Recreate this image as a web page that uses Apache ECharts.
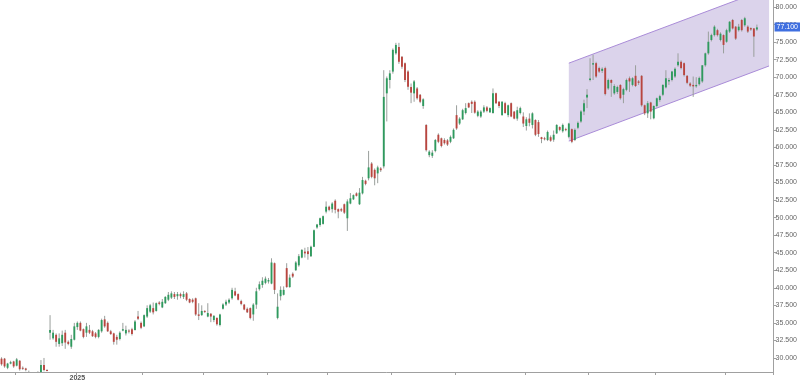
<!DOCTYPE html>
<html><head><meta charset="utf-8">
<script src="https://cdn.jsdelivr.net/npm/echarts@6/dist/echarts.min.js"></script>
<style>html,body{margin:0;padding:0;background:#fff}#c{width:800px;height:384px}</style>
</head><body><div id="c"></div>
<script>
// ---- data ----
const startDate = '2024-11-25';
const holidays = ['2024-12-25','2024-12-26','2025-01-01','2025-04-18','2025-04-21','2025-05-01'];
const totalSlots = 255; // trading days incl. empty space to the right

const opens = [
29.9,29.9,28.6,29.2,29.5,28.9,29.6,28.6,28.5,28.0,
27.8,27.5,27.7,28.0,29.0,28.3,33.6,32.8,33.3,32.0,
32.1,33.6,32.3,31.6,32.6,34.4,35.0,34.1,33.6,34.0,
33.8,33.5,33.0,33.8,35.5,35.0,33.8,33.5,33.0,32.7,
33.9,33.5,33.9,34.1,34.0,35.9,35.0,34.5,35.9,36.6,
37.1,36.7,37.9,37.2,37.8,38.3,38.6,39.1,38.8,39.1,
38.7,39.2,38.4,38.3,38.5,36.2,36.1,36.7,35.9,36.3,
35.4,35.7,34.7,37.0,37.6,37.9,38.5,39.5,39.1,38.1,
37.6,37.0,37.1,36.2,37.6,39.8,40.4,40.7,40.9,40.6,
43.5,35.7,38.8,39.0,42.8,40.1,42.0,42.5,43.2,44.3,
45.15,45.2,44.5,45.85,48.6,48.95,49.1,50.85,51.55,51.2,
52.4,51.2,51.2,51.9,49.9,52.0,52.6,53.45,51.9,53.45,
55.25,55.6,57.7,56.8,56.3,57.0,57.3,67.7,69.6,70.8,
73.4,74.3,72.9,72.0,70.8,68.6,67.7,68.4,67.5,65.9,
63.2,58.9,58.8,59.5,61.8,61.3,61.05,61.0,60.8,61.3,
64.6,63.4,64.0,64.9,66.3,66.5,66.5,64.5,64.4,65.1,
65.7,65.0,64.9,67.7,66.5,64.6,66.3,64.6,66.3,65.1,
64.1,64.9,64.4,63.05,64.1,63.2,63.9,63.6,61.45,61.3,
61.05,61.45,61.1,62.0,62.9,62.3,62.6,61.5,62.6,61.05,
62.8,63.7,65.1,67.1,69.6,71.8,72.0,71.3,70.9,71.3,
68.4,69.6,67.7,67.9,68.9,67.5,68.2,69.85,68.9,70.2,
69.4,70.2,66.0,64.85,66.4,64.15,65.9,66.75,67.5,68.55,
69.4,69.6,70.1,71.7,72.2,72.0,70.2,69.1,68.9,68.7,
69.0,69.4,71.7,73.4,75.3,76.0,76.7,75.3,76.0,75.05,
76.5,78.15,77.2,76.7,78.15,77.4,77.2,77.0,76.95,76.8];

const closes = [
29.1,28.8,29.2,29.4,28.8,29.8,28.4,28.5,28.3,27.8,
27.5,27.7,28.0,29.0,28.3,28.2,34.0,33.6,32.3,32.8,
33.3,32.2,32.0,32.7,34.5,35.0,33.9,33.0,34.5,33.6,
33.1,33.0,34.0,35.4,34.5,33.8,33.4,32.3,32.6,33.6,
34.1,34.0,33.8,33.4,35.2,35.6,34.3,36.1,37.1,37.5,
36.5,37.8,37.7,38.0,38.7,39.0,39.2,38.7,39.1,38.8,
39.1,38.3,37.9,38.0,36.2,36.0,36.7,36.6,36.4,35.9,
36.0,34.8,36.2,37.6,38.0,38.3,39.7,38.9,38.3,37.7,
36.9,36.5,35.7,37.6,39.5,40.5,41.0,41.3,41.1,43.6,
39.7,37.3,39.7,39.7,40.1,41.45,41.6,43.6,44.5,45.4,
44.9,44.8,45.85,48.2,49.0,49.9,50.2,51.55,51.1,52.0,
51.1,50.85,51.0,50.7,52.3,52.75,53.2,53.1,53.55,55.35,
54.8,57.15,55.8,55.6,57.15,56.75,67.2,69.85,70.55,73.9,
74.6,72.2,71.5,69.6,68.65,67.8,69.4,67.0,66.5,66.85,
59.6,59.4,59.25,61.05,60.8,60.2,60.6,60.4,61.5,62.5,
62.7,64.1,65.3,65.6,65.7,66.2,64.95,65.1,65.1,65.7,
65.2,65.6,67.7,66.3,65.9,66.5,64.9,66.0,64.4,64.1,
65.3,65.6,63.4,64.0,63.5,64.85,61.8,61.9,61.2,61.2,
62.2,60.95,61.8,63.2,62.5,63.2,62.5,63.4,60.8,62.5,
63.5,65.1,66.3,67.5,69.8,72.0,70.1,70.8,71.2,67.6,
69.6,69.2,68.75,68.6,67.0,68.3,69.6,69.4,69.85,68.75,
69.2,66.0,64.85,66.3,65.1,65.9,67.0,67.3,68.9,69.85,
69.6,70.8,71.2,72.2,71.3,70.3,69.2,68.8,68.7,68.9,
69.9,71.7,73.4,75.05,76.0,77.2,76.0,76.2,74.6,76.7,
77.9,76.95,75.5,77.2,76.7,78.4,76.5,76.8,75.8,77.1];

const highs = [
30.1,30.0,29.3,29.6,29.6,30.0,29.7,28.8,28.6,28.2,
27.9,27.9,28.1,29.7,30.0,28.4,36.1,34.0,33.5,33.5,
33.9,34.0,32.5,33.3,35.0,35.2,35.2,34.2,35.0,34.7,
34.0,33.7,34.1,35.6,36.0,35.2,34.0,33.6,33.3,33.8,
35.0,34.6,34.1,34.3,35.4,36.7,35.2,36.2,37.5,37.7,
37.9,37.9,38.1,38.4,38.8,39.4,39.5,39.4,39.4,39.3,
39.5,39.4,38.5,38.5,38.6,37.8,37.5,36.8,37.8,36.4,
36.1,35.8,36.3,37.8,38.3,38.5,40.0,40.0,39.2,38.3,
37.7,37.2,37.2,37.8,40.0,40.9,41.5,41.6,41.4,44.2,
43.6,39.2,40.2,40.2,43.5,41.9,42.2,43.8,44.8,45.5,
45.7,45.8,46.0,48.3,49.1,50.0,50.3,52.3,51.7,52.2,
52.6,51.3,51.4,52.0,52.6,53.5,53.3,53.6,54.2,55.8,
55.4,59.5,57.9,57.0,57.4,57.2,71.0,70.1,71.0,74.1,
74.9,74.9,73.0,72.1,71.0,69.1,69.6,68.6,67.6,67.0,
63.3,59.6,59.6,61.2,62.0,61.4,61.3,61.2,61.7,62.7,
66.0,64.3,65.5,66.3,66.4,66.7,66.7,65.3,65.3,66.0,
65.9,65.7,68.4,67.8,66.6,66.6,66.5,66.1,66.4,65.2,
65.8,65.8,65.0,64.3,64.85,65.0,64.0,63.9,61.5,61.5,
62.4,61.7,62.4,63.3,63.0,63.4,62.8,63.5,62.7,62.7,
63.7,65.3,66.8,68.3,72.7,73.2,72.2,71.5,71.4,71.5,
69.8,69.7,69.0,68.8,69.0,68.5,69.8,70.1,70.0,71.7,
69.6,70.3,66.1,66.6,66.5,66.0,67.1,67.5,69.0,71.0,
69.9,70.9,71.4,73.4,72.4,72.1,70.3,69.3,70.1,70.0,
70.1,71.7,73.5,76.5,76.2,77.4,76.9,76.4,76.1,76.9,
78.0,78.3,77.3,77.6,78.3,78.6,77.4,77.1,77.0,77.5];

const lows = [
28.9,28.6,28.4,29.1,28.6,28.8,28.2,28.3,28.1,27.5,
27.2,27.3,27.5,27.9,28.1,28.1,32.6,32.6,31.6,31.6,
31.7,31.3,31.8,31.3,32.5,34.0,33.8,32.8,33.0,33.4,
33.0,32.8,32.8,33.6,34.3,33.7,33.3,31.9,31.9,32.5,
33.8,33.2,33.5,33.2,33.9,35.4,34.1,34.4,35.7,36.4,
36.2,36.6,37.5,37.1,37.7,38.1,38.4,38.4,38.3,38.5,
38.4,38.1,37.8,37.8,36.0,35.4,36.0,36.4,35.8,35.1,
35.1,34.6,34.5,36.9,37.4,37.7,38.3,38.8,38.2,37.5,
36.8,36.4,35.5,35.3,37.0,39.6,40.0,40.5,40.6,40.5,
39.1,35.5,38.2,38.9,40.0,40.0,41.4,42.4,43.0,44.2,
44.3,44.0,44.4,45.8,48.4,48.7,49.0,50.6,50.9,50.7,
50.6,49.9,50.8,50.5,48.1,51.9,52.5,53.0,51.8,53.3,
54.6,55.3,55.6,54.6,54.9,56.5,57.0,63.7,68.4,70.5,
73.2,71.9,71.2,69.3,68.2,66.3,66.5,66.8,66.3,65.5,
59.4,58.6,58.5,59.3,60.6,60.0,60.4,60.2,60.6,61.2,
62.5,63.2,63.9,64.7,65.6,64.9,64.8,64.3,64.2,64.9,
65.0,64.9,64.8,66.2,65.6,64.5,64.8,64.3,64.3,64.0,
63.8,64.7,62.9,62.4,63.0,62.7,61.6,61.5,60.6,61.0,
60.9,60.8,60.8,61.9,62.3,62.1,62.3,61.3,60.6,60.9,
62.6,63.5,64.6,65.6,69.4,69.6,69.9,70.6,70.6,67.4,
68.2,67.2,67.5,67.6,66.8,66.3,68.0,67.9,68.7,68.6,
68.9,65.8,64.6,64.2,64.0,64.0,65.7,66.5,67.3,68.4,
68.9,69.4,69.9,71.5,71.1,70.1,69.0,68.6,67.2,68.5,
68.8,69.2,71.5,73.2,75.1,75.8,75.8,75.1,73.4,74.9,
76.3,76.8,75.3,76.5,76.5,77.2,76.3,76.6,72.9,76.6];

// price channel: [startIndex, endIndex], upper line and lower line prices at those ends
const channelIdx = [187, 253];
const channelUpper = [72.0, 82.7];
const channelLower = [60.9, 71.6];

const yTicks = [30,32.5,35,37.5,40,42.5,45,47.5,50,52.5,55,57.5,60,62.5,65,67.5,70,72.5,75,77.5,80];

// ---- build categories (trading days) ----
function pad(n){return (n<10?'0':'')+n;}
const dates = [];
{
  let d = new Date(startDate + 'T00:00:00Z');
  while (dates.length < totalSlots) {
    const wd = d.getUTCDay();
    const s = d.getUTCFullYear()+'-'+pad(d.getUTCMonth()+1)+'-'+pad(d.getUTCDate());
    if (wd !== 0 && wd !== 6 && holidays.indexOf(s) < 0) dates.push(s);
    d = new Date(d.getTime() + 86400000);
  }
}
function isMonthStart(i){ return i > 0 && dates[i].slice(0,7) !== dates[i-1].slice(0,7); }
function isYearStart(i){ return isMonthStart(i) && dates[i].slice(5,7) === '01'; }

const lastIdx = closes.length - 1;
const lastPrice = closes[lastIdx];
const candleData = opens.map((o, i) => [i, o, closes[i], lows[i], highs[i]]);
const channelData = [[channelIdx[0], channelIdx[1], channelUpper[0], channelLower[0], channelUpper[1], channelLower[1]]];

const UP = '#2f9a5e', DOWN = '#b9453f', WICK = '#9a9f9c';
const FONT = 'Arial, "Liberation Sans", sans-serif';

const chart = echarts.init(document.getElementById('c'), null, {renderer:'canvas'});
chart.setOption({
  animation: false,
  backgroundColor: '#ffffff',
  grid: {left: 0, right: 25, top: 0, bottom: 12, containLabel: false},
  xAxis: {
    type: 'category', data: dates, boundaryGap: true,
    axisLine: {show: true, lineStyle: {color: '#a0a0a0', width: 1}},
    axisTick: {show: true, length: 3, interval: (i) => isMonthStart(i), lineStyle: {color: '#a0a0a0'}},
    axisLabel: {show: true, interval: (i) => isYearStart(i), formatter: (v) => v.slice(0,4),
      fontSize: 7, fontWeight: 'bold', color: '#555', margin: 3, fontFamily: FONT},
    splitLine: {show: false}
  },
  yAxis: {
    type: 'value', position: 'right', min: 28, max: 81, scale: true,
    axisLine: {show: true, lineStyle: {color: '#a0a0a0', width: 1}},
    axisTick: {show: true, length: 3, customValues: yTicks, lineStyle: {color: '#a0a0a0'}},
    axisLabel: {show: true, customValues: yTicks, formatter: (v) => v.toFixed(3),
      fontSize: 7, color: '#666', margin: 2, fontFamily: FONT},
    splitLine: {show: false}
  },
  series: [
    {
      type: 'custom', name: 'channel', data: channelData, clip: true, z: 1, silent: true,
      encode: {x: [0, 1], y: [2, 3, 4, 5]},
      renderItem: function (params, api) {
        const tl = api.coord([api.value(0), api.value(2)]);
        const bl = api.coord([api.value(0), api.value(3)]);
        const tr = api.coord([api.value(1), api.value(4)]);
        const br = api.coord([api.value(1), api.value(5)]);
        return {type: 'group', children: [
          {type: 'polygon', shape: {points: [tl, tr, br, bl]}, style: {fill: 'rgba(135,110,190,0.30)', stroke: 'none'}},
          {type: 'line', shape: {x1: tl[0], y1: tl[1], x2: tr[0], y2: tr[1]}, style: {stroke: '#a98bd8', lineWidth: 1}},
          {type: 'line', shape: {x1: bl[0], y1: bl[1], x2: br[0], y2: br[1]}, style: {stroke: '#a98bd8', lineWidth: 1}}
        ]};
      }
    },
    {
      type: 'custom', name: 'price', data: candleData, clip: true, z: 2,
      encode: {x: 0, y: [1, 2, 3, 4]},
      renderItem: function (params, api) {
        const i = api.value(0), o = api.value(1), c = api.value(2), l = api.value(3), h = api.value(4);
        const po = api.coord([i, o]), pc = api.coord([i, c]);
        const pl = api.coord([i, l]), ph = api.coord([i, h]);
        const band = api.size([1, 0])[0];
        const bw = Math.max(1, band * 0.62);
        const x = po[0];
        const top = Math.min(po[1], pc[1]), bot = Math.max(po[1], pc[1]);
        return {type: 'group', children: [
          {type: 'line', shape: {x1: x, y1: ph[1], x2: x, y2: pl[1]}, style: {stroke: WICK, lineWidth: 1}},
          {type: 'rect', shape: {x: x - bw / 2, y: top, width: bw, height: Math.max(1, bot - top)},
            style: {fill: c >= o ? UP : DOWN}}
        ]};
      }
    },
    {
      type: 'custom', name: 'lastLabel', data: [[lastIdx, lastPrice]], clip: false, z: 10, silent: true,
      encode: {x: 0, y: 1},
      renderItem: function (params, api) {
        const p = api.coord([api.value(0), api.value(1)]);
        const cs = params.coordSys;
        const x0 = cs.x + cs.width + 1;
        return {type: 'group', children: [
          {type: 'rect', shape: {x: x0, y: Math.round(p[1]) - 4.5, width: 800 - x0, height: 9},
            style: {fill: '#3f6fe0'}},
          {type: 'text', x: x0 + 2, y: Math.round(p[1]),
            style: {text: api.value(1).toFixed(3), fill: '#fff', fontSize: 7, fontFamily: FONT,
              verticalAlign: 'middle', align: 'left'}}
        ]};
      }
    }
  ]
});
</script></body></html>
